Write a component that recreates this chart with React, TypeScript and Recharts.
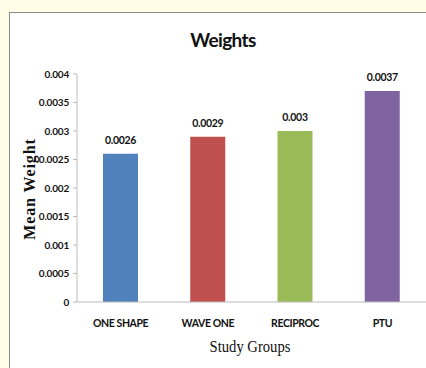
import React from 'react'
import { BarChart, Bar, XAxis, YAxis, Cell, LabelList } from 'recharts'

const groups = ['ONE SHAPE', 'WAVE ONE', 'RECIPROC', 'PTU']
const meanWeights = [0.0026, 0.0029, 0.003, 0.0037]
const yTicks = [0, 0.0005, 0.001, 0.0015, 0.002, 0.0025, 0.003, 0.0035, 0.004]
const boundaryTicks = [0, 1, 2, 3, 4]
const barColors = ['#4F81BD', '#C0504D', '#9BBB59', '#8064A2']

const data = groups.map((g, i) => ({ group: g, weight: meanWeights[i], idx: i + 0.5 }))

const sans = 'Lato, "Open Sans", sans-serif'
const serif = '"Liberation Serif", "DejaVu Serif", serif'

export default function App() {
  return (
    <div
      style={{
        position: 'fixed',
        left: 0,
        top: 0,
        width: 426,
        height: 368,
        background: '#FFFDE8',
        overflow: 'hidden',
      }}
    >
      <div
        style={{
          position: 'absolute',
          left: 9,
          top: 12,
          width: 440,
          height: 380,
          background: '#fff',
          border: '1px solid #8a8a8a',
        }}
      />
      <div
        style={{
          position: 'absolute',
          left: 0,
          width: 446,
          top: 28,
          textAlign: 'center',
          fontFamily: sans,
          fontWeight: 700,
          fontSize: 19,
          letterSpacing: -0.6,
          color: '#111',
        }}
      >
        Weights
      </div>
      <div
        style={{
          position: 'absolute',
          left: 30,
          top: 189,
          transform: 'translate(-50%, -50%) rotate(-90deg)',
          whiteSpace: 'nowrap',
          fontFamily: serif,
          fontWeight: 700,
          fontSize: 16,
          letterSpacing: 0.9,
          color: '#111',
        }}
      >
        Mean Weight
      </div>
      <div
        style={{
          position: 'absolute',
          left: 250,
          top: 347,
          transform: 'translate(-50%, -50%) scaleX(0.86)',
          whiteSpace: 'nowrap',
          fontFamily: serif,
          fontSize: 17,
          color: '#111',
        }}
      >
        Study Groups
      </div>
      <div style={{ position: 'absolute', left: 0, top: 0 }}>
        <BarChart
          width={426}
          height={368}
          data={data}
          margin={{ top: 74, right: 0, bottom: 36, left: 0 }}
        >
          <XAxis
            xAxisId="edge"
            dataKey="idx"
            type="number"
            domain={[0, 4]}
            ticks={boundaryTicks}
            tickFormatter={() => ''}
            axisLine={false}
            tickLine={{ stroke: '#bbb' }}
            tickSize={4}
            height={0}
          />
          <XAxis
            xAxisId="cat"
            dataKey="group"
            axisLine={{ stroke: '#bbb' }}
            tickLine={false}
            tickMargin={12}
            height={30}
            tick={{ fontFamily: sans, fontWeight: 700, fontSize: 10.5, letterSpacing: -0.4, fill: '#111' }}
          />
          <YAxis
            domain={[0, 0.004]}
            ticks={yTicks}
            width={77}
            axisLine={{ stroke: '#bbb' }}
            tickLine={{ stroke: '#bbb' }}
            tickSize={4}
            tickMargin={4}
            tick={{ fontFamily: sans, fontWeight: 700, fontSize: 10, letterSpacing: -0.2, fill: '#111' }}
          />
          <Bar xAxisId="cat" dataKey="weight" barSize={35} isAnimationActive={false}>
            {data.map((d, i) => (
              <Cell key={d.group} fill={barColors[i]} />
            ))}
            <LabelList
              dataKey="weight"
              position="top"
              offset={10}
              style={{ fontFamily: sans, fontWeight: 700, fontSize: 10.5, letterSpacing: -0.3, fill: '#111' }}
            />
          </Bar>
        </BarChart>
      </div>
    </div>
  )
}
